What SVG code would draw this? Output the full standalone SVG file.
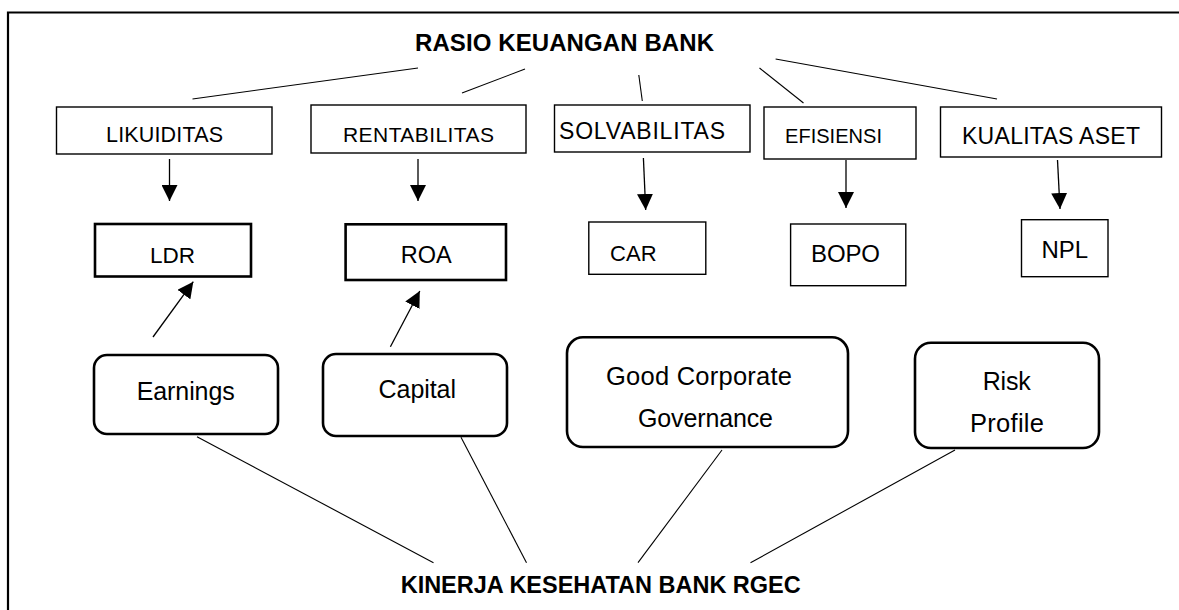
<svg xmlns="http://www.w3.org/2000/svg" width="1179" height="610" viewBox="0 0 1179 610">
<defs>
<marker id="ah" markerUnits="userSpaceOnUse" markerWidth="16" markerHeight="16" viewBox="0 0 14 14" refX="14" refY="7" orient="auto">
<path d="M0,0 L14,7 L0,14 Z" fill="#000"/>
</marker>
<style>
text{font-family:"Liberation Sans",Arial,sans-serif;fill:#000;}
.t{font-weight:bold;}
.b{fill:#fff;stroke:#000;stroke-width:1.4;}
.bt{fill:#fff;stroke:#000;stroke-width:2.6;}
.r{fill:#fff;stroke:#000;stroke-width:2.6;}
.ln{stroke:#000;stroke-width:1.1;fill:none;}
.ar{stroke:#000;stroke-width:1.3;fill:none;marker-end:url(#ah);}
</style>
</defs>
<rect width="1179" height="610" fill="#fff"/>
<path d="M8,610 V12.5 H1179" fill="none" stroke="#000" stroke-width="2.2"/>

<g id="connectors">
<line class="ln" x1="418" y1="68" x2="192.5" y2="99"/>
<line class="ln" x1="525" y1="69" x2="462" y2="93"/>
<line class="ln" x1="638.8" y1="75" x2="642.3" y2="101"/>
<line class="ln" x1="759.5" y1="68" x2="803.5" y2="103"/>
<line class="ln" x1="775.6" y1="59" x2="997" y2="99"/>
<line class="ar" x1="169.5" y1="159" x2="169.5" y2="201"/>
<line class="ar" x1="418" y1="159" x2="418" y2="201"/>
<line class="ar" x1="643.4" y1="158" x2="645.7" y2="210"/>
<line class="ar" x1="846" y1="160" x2="846" y2="208"/>
<line class="ar" x1="1057.5" y1="160" x2="1060" y2="209"/>
<line class="ar" x1="153" y1="337" x2="193.3" y2="281.7"/>
<line class="ar" x1="390.4" y1="346.7" x2="419.8" y2="291"/>
<line class="ln" x1="197" y1="436.7" x2="433.5" y2="562.7"/>
<line class="ln" x1="461" y1="437.3" x2="526.5" y2="562.7"/>
<line class="ln" x1="722" y1="450" x2="638" y2="562.7"/>
<line class="ln" x1="955" y1="450" x2="750.5" y2="562.7"/>
</g>

<g id="title-top"><text class="t" x="415" y="51" font-size="24" textLength="299">RASIO KEUANGAN BANK</text></g>

<g id="likuiditas"><rect class="b" x="56.5" y="107" width="215.5" height="47"/><text x="106" y="142" font-size="21.5" textLength="117">LIKUIDITAS</text></g>
<g id="rentabilitas"><rect class="b" x="311" y="105" width="215" height="48"/><text x="343" y="142" font-size="21" textLength="151">RENTABILITAS</text></g>
<g id="solvabilitas"><rect class="b" x="554.5" y="105" width="195.5" height="47"/><text x="559" y="139" font-size="23" textLength="166">SOLVABILITAS</text></g>
<g id="efisiensi"><rect class="b" x="764" y="107" width="152" height="52"/><text x="785" y="143" font-size="20" textLength="97">EFISIENSI</text></g>
<g id="kualitas-aset"><rect class="b" x="940.5" y="107" width="221" height="50"/><text x="962" y="144" font-size="23" textLength="178">KUALITAS ASET</text></g>

<g id="ldr"><rect class="bt" x="95" y="224" width="156" height="52.5"/><text x="150" y="262.7" font-size="22.5" textLength="45">LDR</text></g>
<g id="roa"><rect class="bt" x="345.6" y="224.3" width="160.4" height="55.7"/><text x="400.7" y="263.3" font-size="23.5" textLength="51">ROA</text></g>
<g id="car"><rect class="b" x="588.8" y="222" width="117" height="52.3"/><text x="610" y="261" font-size="22" textLength="46.7">CAR</text></g>
<g id="bopo"><rect class="b" x="790.6" y="224" width="115.2" height="61.7"/><text x="811" y="262" font-size="24" textLength="69">BOPO</text></g>
<g id="npl"><rect class="b" x="1021.5" y="219.7" width="86.5" height="57"/><text x="1041.6" y="257.7" font-size="24" textLength="46.4">NPL</text></g>

<g id="earnings"><rect class="r" x="94" y="355" width="184" height="79" rx="13"/><text x="136.7" y="400" font-size="25" textLength="98">Earnings</text></g>
<g id="capital"><rect class="r" x="323" y="354" width="184" height="82" rx="13"/><text x="378.6" y="398.3" font-size="25" textLength="77.4">Capital</text></g>
<g id="gcg"><rect class="r" x="567" y="337.3" width="281" height="109.7" rx="16"/><text x="606" y="385" font-size="25.5" textLength="186">Good Corporate</text><text x="638" y="426.7" font-size="25" textLength="135">Governance</text></g>
<g id="risk"><rect class="r" x="915" y="342.7" width="184" height="105.3" rx="16"/><text x="982.7" y="390" font-size="25" textLength="48">Risk</text><text x="970" y="431.7" font-size="25.5" textLength="74">Profile</text></g>

<g id="title-bottom"><text class="t" x="400.7" y="592.7" font-size="23.5" textLength="400">KINERJA KESEHATAN BANK RGEC</text></g>
</svg>
